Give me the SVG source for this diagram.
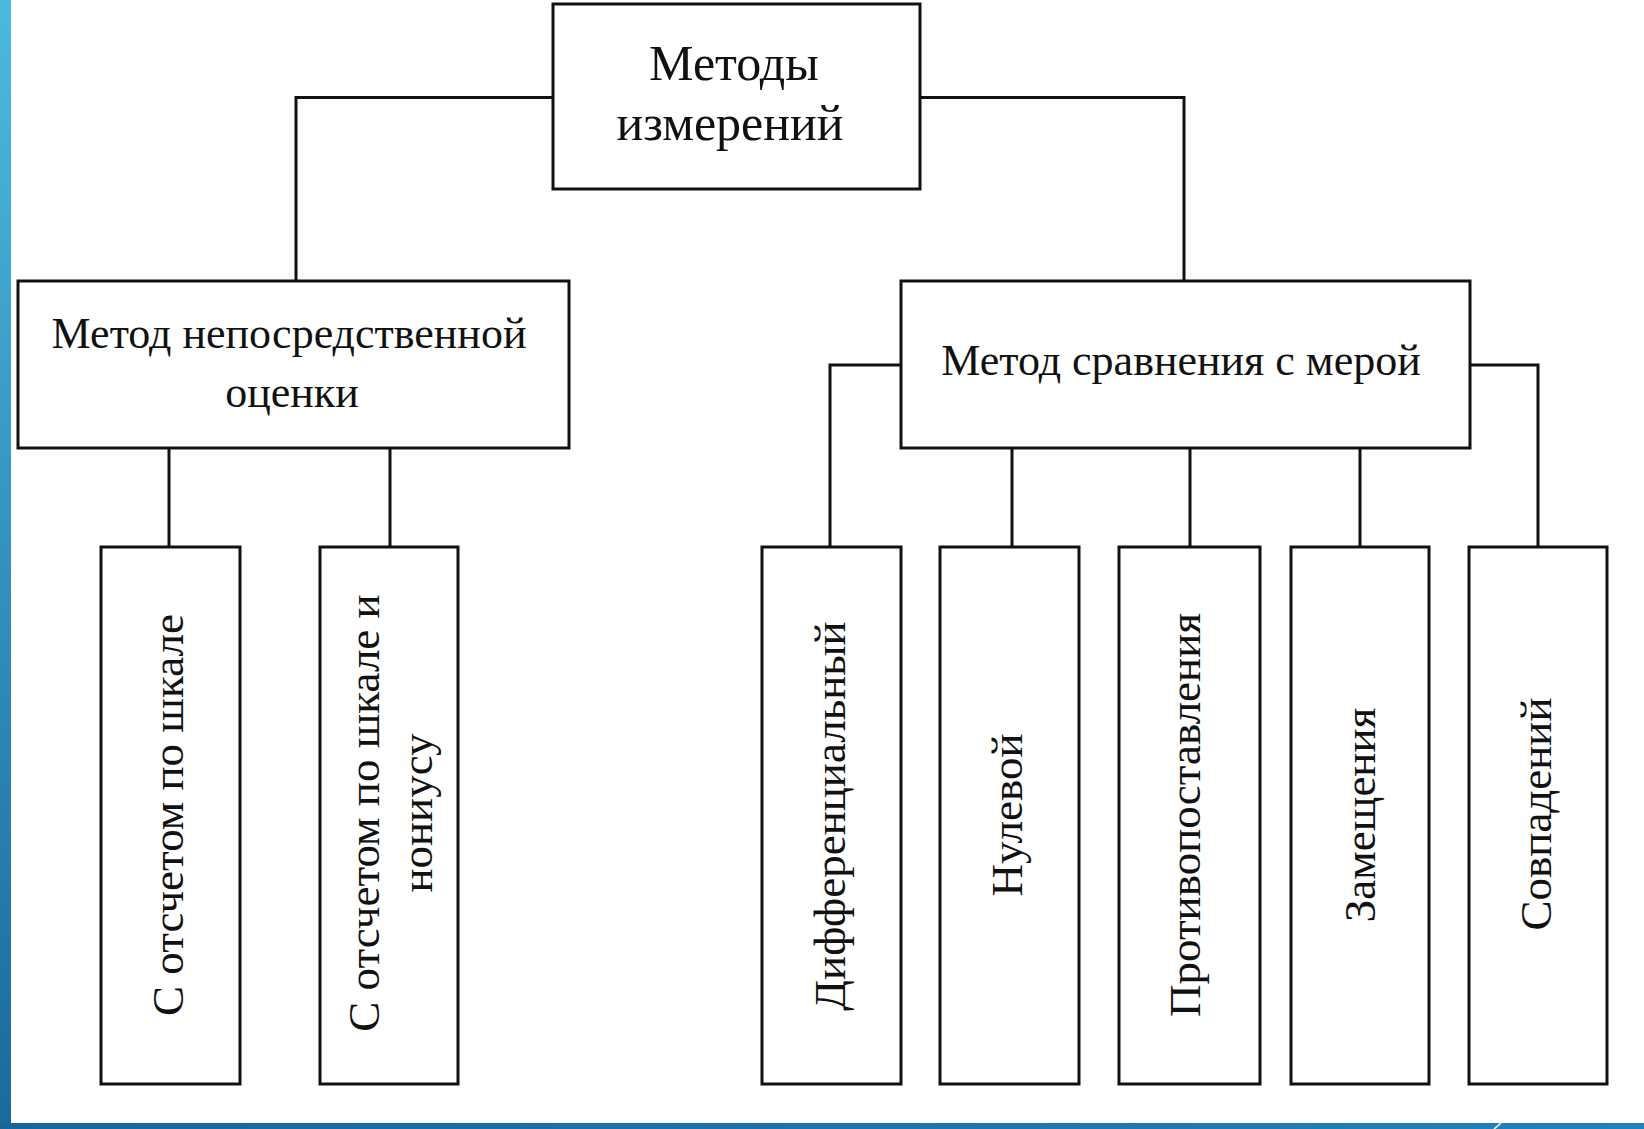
<svg xmlns="http://www.w3.org/2000/svg" width="1644" height="1129" viewBox="0 0 1644 1129">
<defs>
<linearGradient id="lbar" x1="0" y1="0" x2="0" y2="1">
<stop offset="0" stop-color="#4db9de"/>
<stop offset="1" stop-color="#1a699d"/>
</linearGradient>
<linearGradient id="bbar" x1="0" y1="0" x2="1" y2="0">
<stop offset="0" stop-color="#17669b"/>
<stop offset="1" stop-color="#2282b9"/>
</linearGradient>
<style>
.box{fill:#fff;stroke:#111;stroke-width:3}
.ln{fill:none;stroke:#111;stroke-width:3}
.t{font-family:"Liberation Serif","Times New Roman",serif;fill:#111;text-anchor:middle}
.h{font-size:50px}
.m{font-size:44px}
.v{font-size:45px;dominant-baseline:central}
</style>
</defs>
<rect width="1644" height="1129" fill="#fff"/>
<rect x="0" y="0" width="11" height="1129" fill="url(#lbar)"/>
<rect x="0" y="1123" width="1644" height="6" fill="url(#bbar)"/>
<line x1="1494" y1="1129" x2="1501" y2="1123" stroke="#fff" stroke-width="1.5"/>

<g id="connectors">
<polyline class="ln" points="553,97.5 296,97.5 296,281"/>
<polyline class="ln" points="920,97.5 1184,97.5 1184,281"/>
<line class="ln" x1="169" y1="448" x2="169" y2="547"/>
<line class="ln" x1="390" y1="448" x2="390" y2="547"/>
<polyline class="ln" points="901,365 830,365 830,547"/>
<line class="ln" x1="1012" y1="448" x2="1012" y2="547"/>
<line class="ln" x1="1190" y1="448" x2="1190" y2="547"/>
<line class="ln" x1="1360" y1="448" x2="1360" y2="547"/>
<polyline class="ln" points="1470,365 1538,365 1538,547"/>
</g>

<g id="root">
<rect class="box" x="553" y="4" width="367" height="185"/>
<text class="t h" x="734" y="80">Методы</text>
<text class="t h" x="730" y="140">измерений</text>
</g>

<g id="direct">
<rect class="box" x="18" y="281" width="551" height="167"/>
<text class="t m" x="289" y="348">Метод непосредственной</text>
<text class="t m" x="292" y="407">оценки</text>
</g>

<g id="compare">
<rect class="box" x="901" y="281" width="569" height="167"/>
<text class="t m" x="1181" y="375">Метод сравнения с мерой</text>
</g>

<g id="scale">
<rect class="box" x="101" y="547" width="139" height="537"/>
<text class="t v" transform="translate(168,815) rotate(-90)">С отсчетом по шкале</text>
</g>

<g id="vernier">
<rect class="box" x="320" y="547" width="138" height="537"/>
<text class="t v" transform="translate(364,813) rotate(-90)">С отсчетом по шкале и</text>
<text class="t v" transform="translate(417,813) rotate(-90)">нониусу</text>
</g>

<g id="differential">
<rect class="box" x="762" y="547" width="139" height="537"/>
<text class="t v" transform="translate(830,816) rotate(-90)">Дифференциальный</text>
</g>

<g id="zero">
<rect class="box" x="940" y="547" width="139" height="537"/>
<text class="t v" transform="translate(1007,815) rotate(-90)">Нулевой</text>
</g>

<g id="opposition">
<rect class="box" x="1119" y="547" width="141" height="537"/>
<text class="t v" transform="translate(1185,815) rotate(-90)">Противопоставления</text>
</g>

<g id="substitution">
<rect class="box" x="1291" y="547" width="138" height="537"/>
<text class="t v" transform="translate(1360,815) rotate(-90)">Замещения</text>
</g>

<g id="coincidence">
<rect class="box" x="1469" y="547" width="138" height="537"/>
<text class="t v" transform="translate(1536,814) rotate(-90)">Совпадений</text>
</g>
</svg>
